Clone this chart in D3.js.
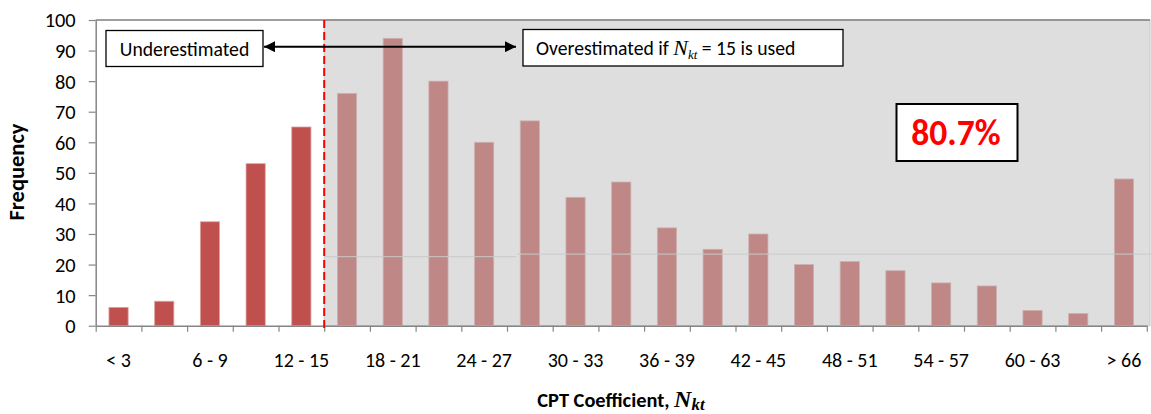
<!DOCTYPE html>
<html>
<head>
<meta charset="utf-8">
<script src="https://cdn.jsdelivr.net/npm/d3@7/dist/d3.min.js"></script>
<style>
  html, body { margin: 0; padding: 0; background: #fff; }
  svg { display: block; }
  text { font-family: Carlito, Lato, "Open Sans", sans-serif; }
</style>
</head>
<body>
<script>
// Nkt bins, frequency per bin and the labelled bins
const categories = ["< 3", "3 - 6", "6 - 9", "9 - 12", "12 - 15", "15 - 18", "18 - 21", "21 - 24",
  "24 - 27", "27 - 30", "30 - 33", "33 - 36", "36 - 39", "39 - 42", "42 - 45", "45 - 48",
  "48 - 51", "51 - 54", "54 - 57", "57 - 60", "60 - 63", "63 - 66", "> 66"];
const frequency = [6, 8, 34, 53, 65, 76, 94, 80, 60, 67, 42, 47, 32, 25, 30, 20, 21, 18, 14, 13, 5, 4, 48];
const shownLabels = ["< 3", "6 - 9", "12 - 15", "18 - 21", "24 - 27", "30 - 33", "36 - 39",
  "42 - 45", "48 - 51", "54 - 57", "60 - 63", "> 66"];
const yTicks = [0, 10, 20, 30, 40, 50, 60, 70, 80, 90, 100];
const nktLimit = 15;            // bins above this value are overestimated
const splitIndex = 5;           // first bin above the limit
const overestimatedShare = "80.7%";
const faintLines = [[5, 9.2, 22.6], [9.2, 23.1, 23.4]]; // [fromBin, toBin, level]

const W = 1151, H = 414;
const plot = { left: 95.7, right: 1146.8, top: 20, bottom: 325.7 };
const FONT = "Carlito, Lato, 'Open Sans', sans-serif";
const SERIF = "'Liberation Serif', 'DejaVu Serif', serif";

const svg = d3.select("body").append("svg").attr("width", W).attr("height", H);

const x = d3.scaleBand().domain(categories)
  .range([plot.left, plot.right]).paddingInner(0.58).paddingOuter(0.29);
const xEdge = d3.scaleLinear().domain([0, categories.length]).range([plot.left, plot.right]);
const y = d3.scaleLinear().domain([0, 100]).range([plot.bottom, plot.top]);

// bars
svg.append("g").selectAll("rect").data(frequency).join("rect")
  .attr("x", (d, i) => x(categories[i]))
  .attr("y", d => y(d))
  .attr("width", x.bandwidth())
  .attr("height", d => y(0) - y(d))
  .attr("fill", "#c0504d")
  .attr("stroke", "#dba3a1")
  .attr("stroke-width", 0.8);

// translucent shading over the overestimated region
const shadeX = xEdge(splitIndex);
svg.append("rect")
  .attr("x", shadeX).attr("y", plot.top)
  .attr("width", W - 1 - shadeX).attr("height", plot.bottom - plot.top)
  .attr("fill", "rgb(190,190,190)").attr("fill-opacity", 0.51)
  .attr("stroke", "#c8c8c8").attr("stroke-width", 1);

// faint reference strokes inside the shaded region
svg.append("g").selectAll("line").data(faintLines).join("line")
  .attr("x1", d => xEdge(d[0]) + 1).attr("x2", d => xEdge(d[1]))
  .attr("y1", d => y(d[2])).attr("y2", d => y(d[2]))
  .attr("stroke", "#c9c9c9").attr("stroke-opacity", 0.8).attr("stroke-width", 1.4);

// top frame
svg.append("line")
  .attr("x1", plot.left).attr("x2", W - 1)
  .attr("y1", plot.top).attr("y2", plot.top)
  .attr("stroke", "#7f7f7f").attr("stroke-width", 1.5);

// y axis
const yAxis = svg.append("g").attr("transform", `translate(${plot.left},0)`)
  .call(d3.axisLeft(y).tickValues(yTicks).tickSize(7).tickSizeOuter(0).tickPadding(13));
yAxis.select(".domain").attr("stroke", "#868686").attr("stroke-width", 1.5);
yAxis.selectAll(".tick line").attr("stroke", "#868686").attr("stroke-width", 1.2);
yAxis.selectAll(".tick text").attr("font-size", 20.4).attr("fill", "#000")
  .attr("dy", "0.34em").style("font-family", FONT);

// x axis: tick marks at bin edges
const xTickAxis = svg.append("g").attr("transform", `translate(0,${plot.bottom})`)
  .call(d3.axisBottom(xEdge).tickValues(d3.range(categories.length + 1))
    .tickFormat("").tickSize(6).tickSizeOuter(0));
xTickAxis.select(".domain").attr("stroke", "#868686").attr("stroke-width", 1.5);
xTickAxis.selectAll(".tick line").attr("stroke", "#868686").attr("stroke-width", 1.2);

// x axis: labels at alternate bins
const xLabelAxis = svg.append("g").attr("transform", `translate(0,${plot.bottom})`)
  .call(d3.axisBottom(x).tickValues(shownLabels).tickSize(0).tickPadding(27));
xLabelAxis.select(".domain").remove();
xLabelAxis.selectAll(".tick text").attr("font-size", 20).attr("fill", "#000")
  .style("font-family", FONT);

// Nkt = 15 dividing line
svg.append("line")
  .attr("x1", xEdge(splitIndex)).attr("x2", xEdge(splitIndex))
  .attr("y1", plot.top).attr("y2", plot.bottom + 2.5)
  .attr("stroke", "#ff0000").attr("stroke-width", 2)
  .attr("stroke-dasharray", "8,4");

// double-headed arrow
const defs = svg.append("defs");
["start", "end"].forEach(k => {
  defs.append("marker").attr("id", "arrow-" + k)
    .attr("viewBox", "0 0 10 10").attr("refX", k === "end" ? 10 : 0).attr("refY", 5)
    .attr("markerWidth", 9).attr("markerHeight", 5.5).attr("markerUnits", "strokeWidth")
    .attr("orient", "auto")
    .append("path")
    .attr("d", k === "end" ? "M0,0 L10,5 L0,10 Z" : "M10,0 L0,5 L10,10 Z")
    .attr("fill", "#000");
});
svg.append("line")
  .attr("x1", 264).attr("x2", 516).attr("y1", 46.7).attr("y2", 46.7)
  .attr("stroke", "#000").attr("stroke-width", 2)
  .attr("marker-start", "url(#arrow-start)").attr("marker-end", "url(#arrow-end)");

// "Underestimated" box
svg.append("rect").attr("x", 106).attr("y", 30.5).attr("width", 157).attr("height", 36)
  .attr("fill", "#fff").attr("stroke", "#000").attr("stroke-width", 1.3);
svg.append("text").attr("x", 184.5).attr("y", 56).attr("text-anchor", "middle")
  .attr("font-size", 19.7).text("Underestimated");

// "Overestimated" box
svg.append("rect").attr("x", 523).attr("y", 29.5).attr("width", 320).attr("height", 36.5)
  .attr("fill", "#fff").attr("stroke", "#000").attr("stroke-width", 1.3);
const over = svg.append("text").attr("x", 536).attr("y", 55).attr("font-size", 19.7);
over.append("tspan").text("Overestimated if ");
over.append("tspan").text("N")
  .style("font-family", SERIF)
  .attr("font-style", "italic").attr("font-size", 22);
over.append("tspan").text("kt")
  .style("font-family", SERIF)
  .attr("font-style", "italic").attr("font-size", 13).attr("dy", 3.5);
over.append("tspan").text(` = ${nktLimit} is used`).attr("dy", -3.5);

// share of overestimated cases
svg.append("rect").attr("x", 896.5).attr("y", 104).attr("width", 121).attr("height", 57)
  .attr("fill", "#fff").attr("stroke", "#000").attr("stroke-width", 2);
svg.append("text").attr("x", 956).attr("y", 145).attr("text-anchor", "middle")
  .attr("font-size", 35.5).attr("font-weight", "bold").attr("fill", "#ff0000")
  .text(overestimatedShare);

// axis titles
svg.append("text")
  .attr("transform", "translate(24,172) rotate(-90)")
  .attr("text-anchor", "middle").attr("font-size", 22.5).attr("font-weight", "bold")
  .text("Frequency");

const xt = svg.append("text").attr("x", 621).attr("y", 406.5).attr("text-anchor", "middle")
  .attr("font-size", 20.4).attr("font-weight", "bold");
xt.append("tspan").text("CPT Coefficient, ");
xt.append("tspan").text("N")
  .style("font-family", SERIF)
  .attr("font-style", "italic").attr("font-size", 24);
xt.append("tspan").text("kt")
  .style("font-family", SERIF)
  .attr("font-style", "italic").attr("font-size", 17).attr("dy", 3.5);
</script>
</body>
</html>
